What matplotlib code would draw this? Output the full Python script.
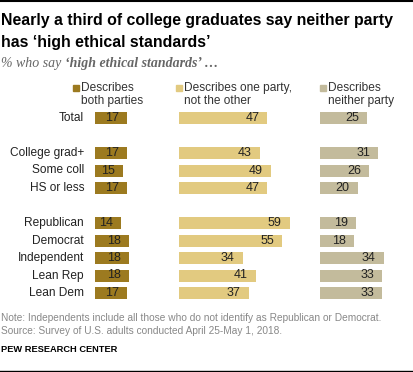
import matplotlib.pyplot as plt
from matplotlib.lines import Line2D
from matplotlib.patches import Rectangle

W, H = 413, 372

groups = ["Total", "College grad+", "Some coll", "HS or less",
          "Republican", "Democrat", "Independent", "Lean Rep", "Lean Dem"]
rows = [0, 2, 3, 4, 6, 7, 8, 9, 10]
both = [17, 17, 15, 17, 14, 18, 18, 18, 17]
one = [47, 43, 49, 47, 59, 55, 34, 41, 37]
neither = [25, 31, 26, 20, 19, 18, 34, 33, 33]
legend_labels = ["Describes\nboth parties", "Describes one party,\nnot the other",
                 "Describes\nneither party"]
colors = ["#9c7a20", "#e2ca80", "#c3bb9c"]

plt.rcParams['font.family'] = ['Liberation Sans', 'DejaVu Sans']
fig = plt.figure(figsize=(W / 100, H / 100), dpi=100)

px_per_unit = 1.88
row_px = 17.5
top_px = 118 - row_px / 2
ax_h = 11 * row_px


def fy(y):
    return 1 - y / H


cols = [(95, 80, both, 73), (179, 135, one, 176), (320, 88, neither, 320)]
for (left, width, vals, lx), c, lab in zip(cols, colors, legend_labels):
    ax = fig.add_axes([left / W, fy(top_px + ax_h), width / W, ax_h / H])
    ax.barh(rows, vals, height=12 / row_px, color=c)
    for r, v in zip(rows, vals):
        ax.annotate(str(v), (v, r), xytext=(-15, 0), textcoords='offset pixels',
                    ha='center', va='center', fontsize=9, color='#222222')
    ax.set_xlim(0, width / px_per_unit)
    ax.set_ylim(10.5, -0.5)
    ax.axis('off')
    # legend entry
    fig.add_artist(Rectangle((lx / W, fy(91)), 6 / W, 6 / H, color=c,
                             transform=fig.transFigure))
    fig.text((lx + 8) / W, fy(82), lab, fontsize=8.6, color='#333333',
             ha='left', va='top', linespacing=1.15)

for g, r in zip(groups, rows):
    fig.text(84 / W, fy(118 + r * row_px), g, fontsize=8.6,
             color='#222222', ha='right', va='center')

fig.text(1 / W, fy(20), "Nearly a third of college graduates say neither party",
         fontsize=11.4, fontweight='bold', ha='left', va='center')
fig.text(1 / W, fy(42), "has \u2018high ethical standards\u2019",
         fontsize=11.4, fontweight='bold', ha='left', va='center')
serif = ['Liberation Serif', 'DejaVu Serif']
t1 = fig.text(1 / W, fy(64), "% who say ", fontsize=10, style='italic',
              family=serif, color='#666666', ha='left', va='center')
fig.canvas.draw()
bb = t1.get_window_extent()
fig.text(bb.x1 / W, fy(64), "\u2018high ethical standards\u2019 \u2026",
         fontsize=10, style='italic', fontweight='bold',
         family=serif, color='#666666', ha='left', va='center')

fig.text(1 / W, fy(318),
         "Note: Independents include all those who do not identify as Republican or Democrat.",
         fontsize=7.3, color='#888888', ha='left', va='center')
fig.text(1 / W, fy(331),
         "Source: Survey of U.S. adults conducted April 25-May 1, 2018.",
         fontsize=7.3, color='#888888', ha='left', va='center')
fig.text(1 / W, fy(350), "PEW RESEARCH CENTER", fontsize=6.7,
         fontweight='bold', color='black', ha='left', va='center')

fig.add_artist(Line2D([0, 1], [fy(0.5), fy(0.5)], color='black', lw=1.5))
fig.add_artist(Line2D([0, 1], [fy(370.5), fy(370.5)], color='black', lw=1))

fig.savefig("out.png", dpi=100)
